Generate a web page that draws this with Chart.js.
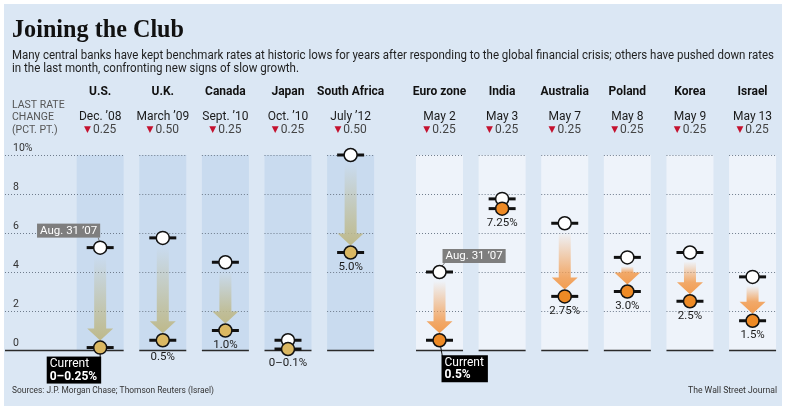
<!DOCTYPE html>
<html><head><meta charset="utf-8">
<script src="https://cdn.jsdelivr.net/npm/chart.js@4.4.1/dist/chart.umd.min.js"></script>
<style>html,body{margin:0;padding:0;background:#fff;}canvas{display:block;}</style>
</head><body>
<canvas id="c" width="788" height="413"></canvas>
<script>
// ---------- data ----------
const countries = ['U.S.','U.K.','Canada','Japan','South Africa','Euro zone','India','Australia','Poland','Korea','Israel'];
const changeDates = ['Dec. ’08','March ’09','Sept. ’10','Oct. ’10','July ’12','May 2','May 3','May 7','May 8','May 9','May 13'];
const lastChange = ['0.25','0.50','0.25','0.25','0.50','0.25','0.25','0.25','0.25','0.25','0.25'];
const rateAug2007 = [5.25, 5.75, 4.5, 0.5, 10.0, 4.0, 7.75, 6.5, 4.75, 5.0, 3.75];
const rateCurrent = [0.125, 0.5, 1.0, 0.05, 5.0, 0.5, 7.25, 2.75, 3.0, 2.5, 1.5];
const currentLabels = ['', '0.5%', '1.0%', '0–0.1%', '5.0%', '', '7.25%', '2.75%', '3.0%', '2.5%', '1.5%'];
const yTicks = [0, 2, 4, 6, 8, 10];
const calloutIndex = [0, 5];
const calloutCurrent = ['0–0.25%', '0.5%'];
const startNote = 'Aug. 31 ’07';
const currentNote = 'Current';
const title = 'Joining the Club';
const subtitle = ['Many central banks have kept benchmark rates at historic lows for years after responding to the global financial crisis; others have pushed down rates',
                  'in the last month, confronting new signs of slow growth.'];
const axisNote = ['LAST RATE', 'CHANGE', '(PCT. PT.)'];
const source = 'Sources: J.P. Morgan Chase; Thomson Reuters (Israel)';
const credit = 'The Wall Street Journal';

// ---------- layout / style ----------
const RECENT_START = 5;      // first country of the "recent cuts" group
const GROUP_GAP = 0.42;      // extra spacing between the two groups (in column units)
const colPos = i => i + (i >= RECENT_START ? GROUP_GAP : 0);
const BAND_W = 47;
const C_BG = '#dbe7f4', C_BAND_OLD = '#c9dbef', C_BAND_NEW = '#eef3fa';
const C_DOT_OLD = '#dbb862', C_DOT_NEW = '#ee8a25';
const ARROW_OLD = [190, 185, 138], ARROW_NEW = [242, 156, 80];
const isOld = i => i < RECENT_START;
const pts = arr => arr.map((v, i) => ({x: colPos(i), y: v}));

const decor = {
  id: 'decor',
  beforeDraw(chart) {
    const ctx = chart.ctx;
    ctx.save();
    ctx.fillStyle = '#fff'; ctx.fillRect(0, 0, chart.width, chart.height);
    ctx.fillStyle = C_BG; ctx.fillRect(4, 4, 778, 402);
    ctx.restore();
  },
  beforeDatasetsDraw(chart) {
    const ctx = chart.ctx, xs = chart.scales.x, ys = chart.scales.y, ca = chart.chartArea;
    const yTop = ys.getPixelForValue(ys.max), yBot = ys.getPixelForValue(ys.min);
    ctx.save();
    // column bands
    countries.forEach((c, i) => {
      const px = xs.getPixelForValue(colPos(i));
      ctx.fillStyle = isOld(i) ? C_BAND_OLD : C_BAND_NEW;
      ctx.fillRect(px - BAND_W / 2, yTop, BAND_W, yBot - yTop);
    });
    // gridlines + baseline segments
    countries.forEach((c, i) => {
      const px = xs.getPixelForValue(colPos(i));
      const x0 = i === 0 ? ca.left : px - BAND_W / 2, x1 = px + BAND_W / 2;
      yTicks.forEach(v => {
        const py = Math.round(ys.getPixelForValue(v)) + 0.5;
        ctx.beginPath();
        if (v === 0) { ctx.setLineDash([]); ctx.strokeStyle = '#2a2a2a'; ctx.lineWidth = 1.3; }
        else { ctx.setLineDash([1, 2]); ctx.strokeStyle = '#6f7c8c'; ctx.lineWidth = 1; }
        ctx.moveTo(x0, py); ctx.lineTo(x1, py); ctx.stroke();
      });
    });
    ctx.setLineDash([]);
    // arrows
    countries.forEach((c, i) => {
      const px = xs.getPixelForValue(colPos(i));
      const top = ys.getPixelForValue(rateAug2007[i]) + 9;
      const tip = ys.getPixelForValue(rateCurrent[i]) - 7;
      if (tip - top < 16) return;
      const headH = 12, headW = 26, shaftW = 12;
      const rgb = isOld(i) ? ARROW_OLD : ARROW_NEW;
      const g = ctx.createLinearGradient(0, top, 0, tip);
      const f = Math.max(0, (tip - headH - top) / (tip - top));
      g.addColorStop(0, `rgba(${rgb},0)`);
      g.addColorStop(f, `rgba(${rgb},0.85)`);
      g.addColorStop(1, `rgba(${rgb},1)`);
      ctx.fillStyle = g;
      ctx.beginPath();
      ctx.moveTo(px - shaftW / 2, top); ctx.lineTo(px + shaftW / 2, top);
      ctx.lineTo(px + shaftW / 2, tip - headH); ctx.lineTo(px + headW / 2, tip - headH);
      ctx.lineTo(px, tip); ctx.lineTo(px - headW / 2, tip - headH);
      ctx.lineTo(px - shaftW / 2, tip - headH); ctx.closePath(); ctx.fill();
    });
    // callout connectors
    ctx.strokeStyle = '#111'; ctx.lineWidth = 1;
    calloutIndex.forEach((i, k) => {
      const px = xs.getPixelForValue(colPos(i));
      const yc = ys.getPixelForValue(rateCurrent[i]);
      ctx.beginPath(); ctx.moveTo(px, yc);
      ctx.lineTo(k === 0 ? px : px + 3, yc + (k === 0 ? 12 : 17)); ctx.stroke();
      const yS = ys.getPixelForValue(rateAug2007[i]);
      ctx.strokeStyle = '#7b7b7b';
      ctx.beginPath();
      if (k === 0) { ctx.moveTo(px - 2, yS - 10); ctx.lineTo(px, yS - 4); }
      else { ctx.moveTo(px + 5, yS - 9); ctx.lineTo(px + 1, yS - 4); }
      ctx.stroke(); ctx.strokeStyle = '#111';
    });
    ctx.restore();
  },
  afterDatasetsDraw(chart) {
    const ctx = chart.ctx, xs = chart.scales.x, ys = chart.scales.y;
    const base = ys.getPixelForValue(0);
    ctx.save();
    ctx.textAlign = 'center'; ctx.textBaseline = 'middle';
    ctx.font = '11.5px Roboto'; ctx.fillStyle = '#1a1a1a';
    countries.forEach((c, i) => {
      if (!currentLabels[i]) return;
      const px = xs.getPixelForValue(colPos(i));
      let ly = ys.getPixelForValue(rateCurrent[i]) + 14.5;
      if (Math.abs(ly - base) < 5) ly = base + 7;   // keep label clear of the baseline
      ctx.fillText(currentLabels[i], px, ly);
    });
    // callout boxes
    ctx.textAlign = 'left';
    calloutIndex.forEach((i, k) => {
      const px = xs.getPixelForValue(colPos(i));
      const yS = ys.getPixelForValue(rateAug2007[i]);
      const yC = ys.getPixelForValue(rateCurrent[i]);
      ctx.font = '11.5px Roboto';
      const w1 = ctx.measureText(startNote).width + 6;
      const bx = k === 0 ? px - w1 : px + 3, by = yS - (k === 0 ? 24 : 23);
      ctx.fillStyle = '#7e7e7e'; ctx.fillRect(bx, by, w1, 14);
      ctx.fillStyle = '#fff'; ctx.fillText(startNote, bx + 3, by + 7.5);
      ctx.font = 'bold 12px Roboto';
      const wv = ctx.measureText(calloutCurrent[k]).width;
      ctx.font = '12px Roboto';
      const wc = ctx.measureText(currentNote).width;
      const w2 = Math.max(wv, wc) + 7;
      const cx = k === 0 ? px + 1 - w2 : px + 2, cy = yC + (k === 0 ? 9 : 15);
      ctx.fillStyle = '#000'; ctx.fillRect(cx, cy, w2, 27);
      ctx.fillStyle = '#fff';
      ctx.font = '12px Roboto'; ctx.fillText(currentNote, cx + 3, cy + 7.5);
      ctx.font = 'bold 12px Roboto'; ctx.fillText(calloutCurrent[k], cx + 3, cy + 20);
    });
    ctx.restore();
  },
  afterDraw(chart) {
    const ctx = chart.ctx, xs = chart.scales.x;
    ctx.save();
    ctx.textBaseline = 'alphabetic'; ctx.textAlign = 'left';
    ctx.fillStyle = '#111'; ctx.font = 'bold 25px "Liberation Serif"';
    ctx.fillText(title, 12, 37, 172);
    ctx.fillStyle = '#1e1e1e'; ctx.font = '12.5px Roboto';
    ctx.fillText(subtitle[0], 12, 59, 762);
    ctx.fillText(subtitle[1], 12, 72, 287);
    ctx.textBaseline = 'middle';
    ctx.fillStyle = '#555'; ctx.font = '10.5px Roboto';
    axisNote.forEach((t, k) => ctx.fillText(t, 12, 105 + k * 12.5));
    countries.forEach((name, i) => {
      const px = xs.getPixelForValue(colPos(i));
      ctx.textAlign = 'center';
      ctx.font = 'bold 12px Roboto'; ctx.fillStyle = '#111'; ctx.fillText(name, px, 92);
      ctx.font = '12px Roboto'; ctx.fillStyle = '#1a1a1a'; ctx.fillText(changeDates[i], px, 117);
      ctx.font = '9px "DejaVu Sans"'; const tw = ctx.measureText('▼').width;
      ctx.font = '12px Roboto'; const nw = ctx.measureText(lastChange[i]).width;
      const sx = px - (tw + 2 + nw) / 2;
      ctx.textAlign = 'left';
      ctx.font = '9px "DejaVu Sans"'; ctx.fillStyle = '#c4122f'; ctx.fillText('▼', sx, 130);
      ctx.font = '12px Roboto'; ctx.fillStyle = '#444'; ctx.fillText(lastChange[i], sx + tw + 2, 130);
    });
    ctx.fillStyle = '#333'; ctx.font = '9px Roboto'; ctx.textAlign = 'left';
    ctx.fillText(source, 12, 391, 202);
    ctx.textAlign = 'right';
    ctx.fillText(credit, 777, 391, 89);
    ctx.restore();
  }
};

const lineDS = (arr, order) => ({
  data: pts(arr), pointStyle: 'line', pointRadius: 13.5, borderColor: '#111',
  borderWidth: 3, showLine: false, order, clip: false
});
const dotDS = (arr, colors, order) => ({
  data: pts(arr), pointStyle: 'circle', pointRadius: 6.5, backgroundColor: colors,
  borderColor: '#111', borderWidth: 1.5, showLine: false, order, clip: false
});

new Chart(document.getElementById('c'), {
  type: 'scatter',
  data: {
    datasets: [
      lineDS(rateAug2007, 4),
      dotDS(rateAug2007, '#ffffff', 3),
      lineDS(rateCurrent, 2),
      dotDS(rateCurrent, countries.map((c, i) => isOld(i) ? C_DOT_OLD : C_DOT_NEW), 1)
    ]
  },
  options: {
    responsive: false, animation: false, events: [],
    layout: { autoPadding: false, padding: { left: 5, right: 6, top: 155, bottom: 63 } },
    plugins: { legend: { display: false }, tooltip: { enabled: false } },
    scales: {
      x: { type: 'linear', min: -1.52, max: 10.89, display: false },
      y: {
        type: 'linear', min: 0, max: 10,
        afterBuildTicks: s => { s.ticks = yTicks.map(v => ({ value: v })); },
        afterFit: s => { s.width = 0; },
        grid: { display: false, drawTicks: false }, border: { display: false },
        ticks: {
          mirror: true, padding: 8, labelOffset: -7, color: '#333',
          font: { family: 'Roboto', size: 10.5 },
          callback: v => v === 10 ? '10%' : String(v)
        }
      }
    }
  },
  plugins: [decor]
});
</script>
</body></html>
